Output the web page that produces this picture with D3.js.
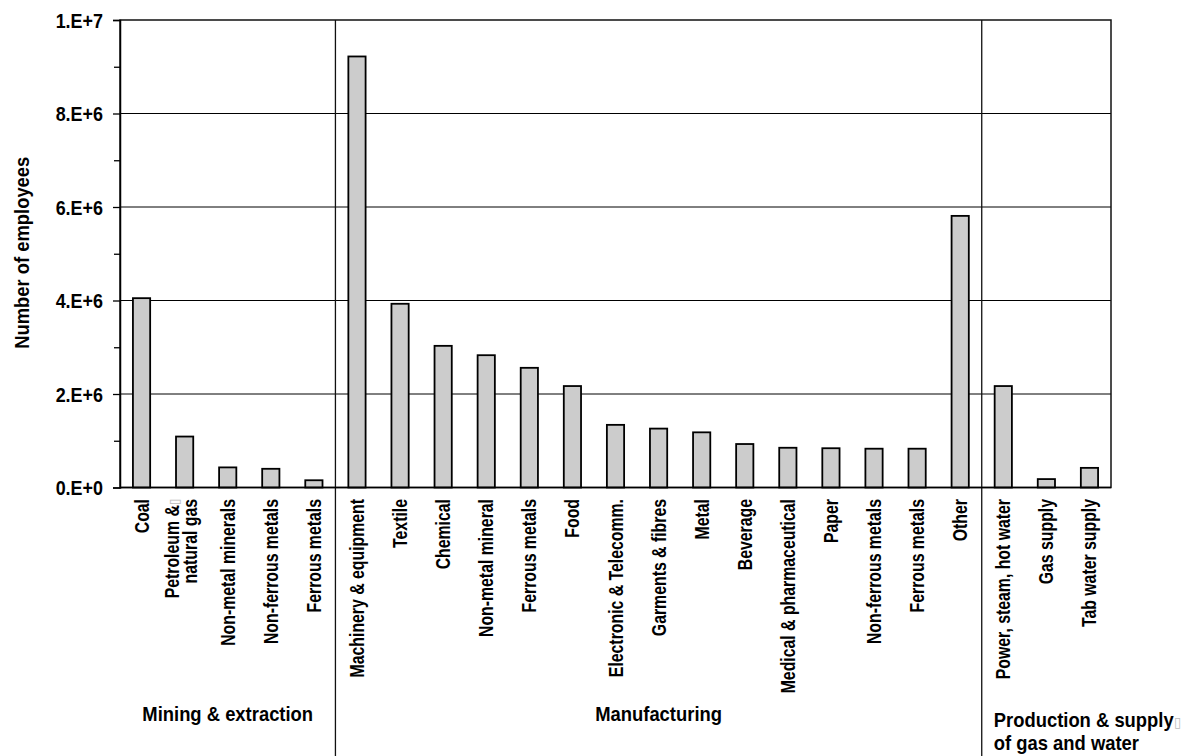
<!DOCTYPE html>
<html>
<head>
<meta charset="utf-8">
<script src="https://cdn.jsdelivr.net/npm/d3@7"></script>
<style>
  html, body { margin: 0; padding: 0; background: #fff; }
  svg { display: block; }
  text { font-family: "Liberation Sans", Arial, sans-serif; font-weight: bold; fill: #000; }
</style>
</head>
<body>
<svg id="chart" width="1190" height="756"></svg>
<script>
// Employees by industrial sector (one bar per sub-sector)
const categories = [
  "Coal", "Petroleum &\u25AF\nnatural gas", "Non-metal minerals", "Non-ferrous metals", "Ferrous metals",
  "Machinery & equipment", "Textile", "Chemical", "Non-metal mineral", "Ferrous metals", "Food",
  "Electronic & Telecomm.", "Garments & fibres", "Metal", "Beverage", "Medical & pharmaceutical",
  "Paper", "Non-ferrous metals", "Ferrous metals", "Other",
  "Power, steam, hot water", "Gas supply", "Tab water supply"
];
const employees = [
  4050000, 1090000, 430000, 400000, 155000,
  9220000, 3930000, 3030000, 2830000, 2560000, 2170000,
  1340000, 1260000, 1180000, 930000, 850000,
  840000, 830000, 830000, 5810000,
  2170000, 180000, 420000
];
const groupNames = [["Mining & extraction"], ["Manufacturing"], ["Production & supply\u25AF", "of gas and water"]];
const groupSizes = [5, 15, 3];
const yTicks = [0, 2e6, 4e6, 6e6, 8e6, 1e7];
const yTickLabels = ["0.E+0", "2.E+6", "4.E+6", "6.E+6", "8.E+6", "1.E+7"];
const yMinorTicks = [1e6, 3e6, 5e6, 7e6, 9e6];
const yTitle = "Number of employees";

const svg = d3.select("#chart");
const plot = { left: 120, right: 1111, top: 20, bottom: 487.5 };

const x = d3.scaleBand()
  .domain(d3.range(categories.length))
  .range([plot.left, plot.right])
  .paddingInner(0.6)
  .paddingOuter(0.3);
const y = d3.scaleLinear().domain([0, 1e7]).range([plot.bottom, plot.top]);
const slotStart = i => x(i) - (x.step() - x.bandwidth()) / 2;

// horizontal gridlines
svg.append("g").selectAll("line")
  .data(yTicks.filter(t => t > 0 && t < 1e7))
  .join("line")
  .attr("x1", plot.left).attr("x2", plot.right)
  .attr("y1", d => y(d)).attr("y2", d => y(d))
  .attr("stroke", "#000").attr("stroke-width", 1);

// plot frame
svg.append("rect")
  .attr("x", plot.left).attr("y", plot.top)
  .attr("width", plot.right - plot.left).attr("height", plot.bottom - plot.top)
  .attr("fill", "none").attr("stroke", "#111").attr("stroke-width", 1.5);

// group separators, running down through the label area
const boundaries = [];
let acc = 0;
groupSizes.slice(0, -1).forEach(s => { acc += s; boundaries.push(acc); });
svg.append("g").selectAll("line")
  .data(boundaries)
  .join("line")
  .attr("x1", d => slotStart(d)).attr("x2", d => slotStart(d))
  .attr("y1", plot.top).attr("y2", 756)
  .attr("stroke", "#111").attr("stroke-width", 1.3);

// bars
svg.append("g").selectAll("rect")
  .data(employees)
  .join("rect")
  .attr("x", (d, i) => x(i))
  .attr("width", x.bandwidth())
  .attr("y", d => y(d))
  .attr("height", d => y(0) - y(d))
  .attr("fill", "#cccccc")
  .attr("stroke", "#000")
  .attr("stroke-width", 1.8);

// y axis with major and minor ticks
const yAxis = svg.append("g")
  .attr("transform", `translate(${plot.left},0)`)
  .call(d3.axisLeft(y).tickValues(yTicks).tickSize(7).tickPadding(10)
    .tickFormat((d, i) => yTickLabels[i]));
yAxis.select(".domain").attr("stroke", "#000").attr("stroke-width", 1.5);
yAxis.selectAll(".tick line").attr("stroke", "#000").attr("stroke-width", 1.3);
yAxis.selectAll("text")
  .style("font-size", "19.5px")
  .attr("fill", "#000")
  .attr("x", 0)
  .attr("dy", "0.36em")
  .attr("transform", "translate(-17,0) scale(0.92,1)");

const yMinor = svg.append("g")
  .attr("transform", `translate(${plot.left},0)`)
  .call(d3.axisLeft(y).tickValues(yMinorTicks).tickSize(6).tickFormat(""));
yMinor.select(".domain").remove();
yMinor.selectAll(".tick line").attr("stroke", "#000").attr("stroke-width", 1.3);

// baseline
svg.append("line")
  .attr("x1", plot.left).attr("x2", plot.right)
  .attr("y1", y(0)).attr("y2", y(0))
  .attr("stroke", "#000").attr("stroke-width", 1.6);

// y axis title
svg.append("text")
  .attr("transform", `translate(29,${(plot.top + plot.bottom) / 2 - 1}) rotate(-90) scale(0.92,1)`)
  .attr("text-anchor", "middle")
  .style("font-size", "20px")
  .text(yTitle);

// helper: write a line, drawing the placeholder box glyph in grey
function writeLine(sel, line) {
  const parts = line.split("\u25AF");
  sel.append("tspan").text(parts[0]);
  if (parts.length > 1) {
    sel.append("tspan")
      .attr("fill", "#bbb")
      .style("font-weight", "normal")
      .style("font-size", "0.7em")
      .text("\u25AF");
  }
}

// rotated category labels (condensed face)
const labelTop = 499;
const catG = svg.append("g");
categories.forEach((c, i) => {
  const lines = c.split("\n");
  const cx = x(i) + x.bandwidth() / 2;
  const t = catG.append("text")
    .attr("transform", `translate(${cx},${labelTop}) rotate(-90) scale(0.8,1)`)
    .attr("text-anchor", "end")
    .style("font-size", "19.8px");
  if (lines.length === 1) {
    t.attr("y", 7);
    writeLine(t, lines[0]);
  } else {
    lines.forEach((ln, k) => {
      const ts = t.append("tspan").attr("x", 0).attr("y", k === 0 ? -6 : 12);
      writeLine(ts, ln);
    });
  }
});

// group labels
let start = 0;
groupNames.forEach((lines, g) => {
  const x0 = slotStart(start);
  const x1 = slotStart(start + groupSizes[g] - 1) + x.step();
  start += groupSizes[g];
  const multi = lines.length > 1;
  const ax = multi ? x0 + 12 : (x0 + x1) / 2;
  const t = svg.append("text")
    .attr("transform", `translate(${ax},0) scale(0.93,1)`)
    .attr("text-anchor", multi ? "start" : "middle")
    .style("font-size", "19.8px");
  if (!multi) {
    t.attr("x", 0).attr("y", 721);
    writeLine(t, lines[0]);
  } else {
    lines.forEach((ln, k) => {
      const ts = t.append("tspan").attr("x", 0).attr("y", 727 + k * 23);
      writeLine(ts, ln);
    });
  }
});
</script>
</body>
</html>
